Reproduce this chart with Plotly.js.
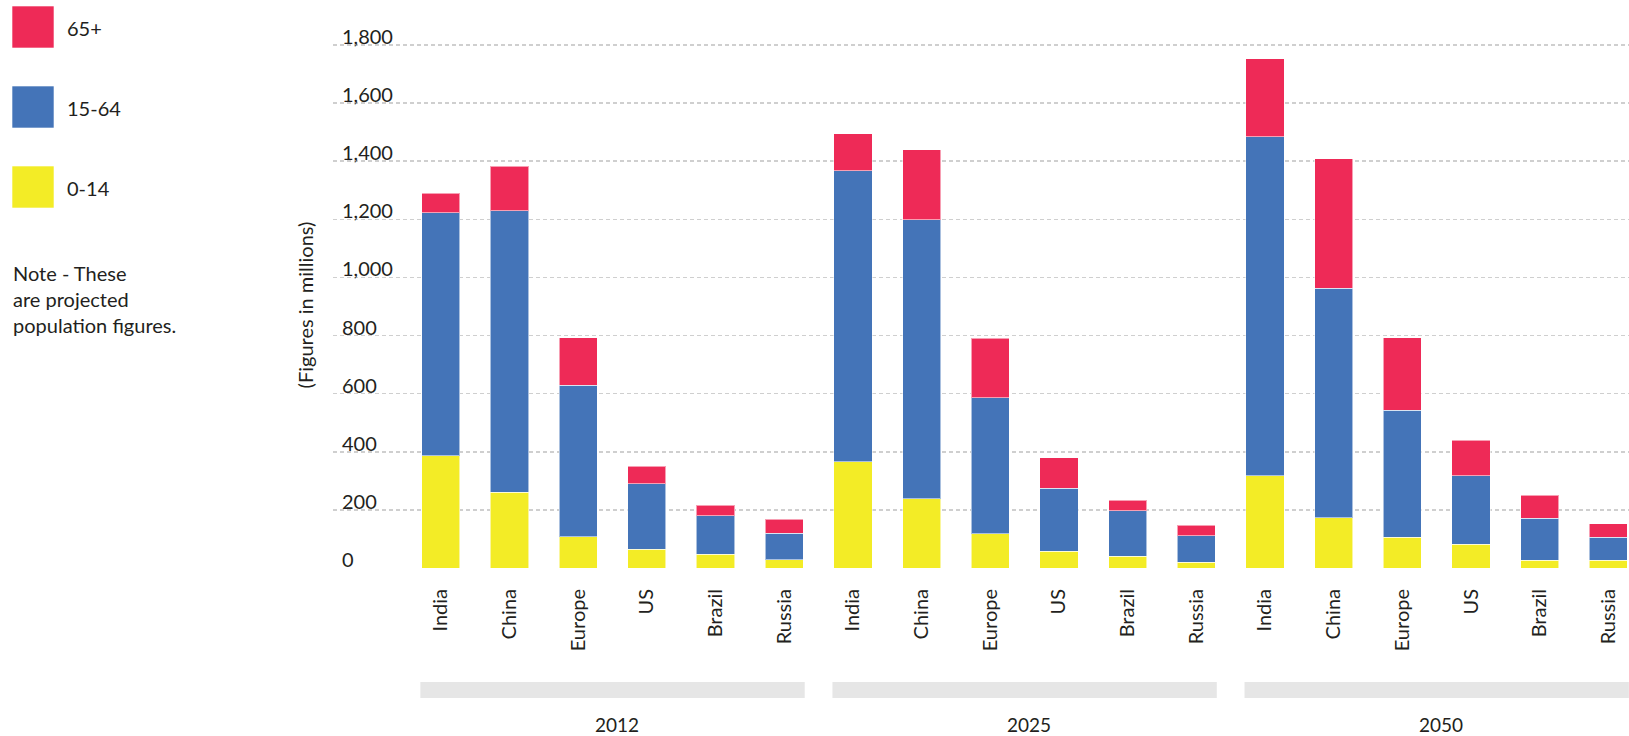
<!DOCTYPE html>
<html>
<head>
<meta charset="utf-8">
<script src="https://cdn.plot.ly/plotly-3.0.1.min.js"></script>
<style>
  html, body { margin: 0; padding: 0; background: #fff; overflow: hidden; }
  #chart { width: 1629px; height: 736px; }
</style>
</head>
<body>
<div id="chart"></div>
<script>
// ---- Data (millions) ----
const categories = ['India', 'China', 'Europe', 'US', 'Brazil', 'Russia'];
const years = ['2012', '2025', '2050'];
const age0to14 = [386, 260, 108, 65, 47, 29,   366, 239, 118, 57, 40, 20,   318, 173, 106, 81, 26, 26];
const age15to64 = [837, 970, 521, 225, 133, 91,  1001, 959, 468, 218, 157, 91,  1167, 789, 437, 237, 146, 79];
const age65plus = [67, 152, 163, 61, 36, 48,    128, 242, 204, 104, 36, 37,    268, 446, 249, 122, 79, 47];
const seriesNames = ['0-14', '15-64', '65+'];
const yTicks = [0, 200, 400, 600, 800, 1000, 1200, 1400, 1600, 1800];
const noteText = 'Note - These<br>are projected<br>population figures.';
const yTitle = '(Figures in millions)';

// ---- Styling ----
const colors = { '0-14': '#F3EC26', '15-64': '#4474B8', '65+': '#EE2A57' };
const FONT = 'Lato, "Open Sans", sans-serif';
const TXT = '#231F20';
const BAR_W = 0.556;

// plot area geometry (px): value 0 at y=568, value 1800 at y=45
const Y0 = 568, Y1800 = 45;
const pxPerUnit = (Y0 - Y1800) / 1800;
const L = 333, T = 42, W = 1629 - L, H = Y0 - T;
const yMax = H / pxPerUnit;
const px2x = px => (px - L) / W;
const px2y = py => (T + H - py) / H;

const xIdx = age0to14.map((_, i) => i);
const tickText = years.flatMap(() => categories);

const makeTrace = (vals, name) => ({
  type: 'bar',
  x: xIdx,
  y: vals,
  name: name,
  width: BAR_W,
  marker: { color: colors[name], line: { color: 'rgba(255,255,255,0.55)', width: 1 } },
  hovertemplate: '%{y}<extra>' + name + '</extra>'
});

const traces = [
  makeTrace(age0to14, '0-14'),
  makeTrace(age15to64, '15-64'),
  makeTrace(age65plus, '65+')
];

// group bars + year labels
const shapes = [];
const annotations = [];
years.forEach((yr, g) => {
  const first = g * categories.length;
  const last = first + categories.length - 1;
  shapes.push({
    type: 'rect', xref: 'x', yref: 'paper',
    x0: first - BAR_W / 2 - 0.02, x1: last + BAR_W / 2 + 0.02,
    y0: px2y(698), y1: px2y(682),
    fillcolor: '#E6E6E6', line: { width: 0 }, layer: 'below'
  });
  annotations.push({
    xref: 'x', yref: 'paper', x: (first + last) / 2 + 0.06, y: px2y(724),
    text: yr, showarrow: false, xanchor: 'center', yanchor: 'middle',
    font: { family: FONT, size: 19, color: TXT }
  });
});

// custom legend (top-left)
const legendOrder = ['65+', '15-64', '0-14'];
const legendTops = [6, 86, 166];
legendOrder.forEach((name, i) => {
  const top = legendTops[i];
  shapes.push({
    type: 'rect', xref: 'paper', yref: 'paper',
    x0: px2x(12), x1: px2x(54), y0: px2y(top + 42), y1: px2y(top),
    fillcolor: colors[name], line: { color: 'rgba(255,255,255,0.6)', width: 1 }
  });
  annotations.push({
    xref: 'paper', yref: 'paper', x: px2x(65), y: px2y(top + 22),
    text: name, showarrow: false, xanchor: 'left', yanchor: 'middle',
    font: { family: FONT, size: 20, color: TXT }
  });
});

// note
annotations.push({
  xref: 'paper', yref: 'paper', x: px2x(11), y: px2y(299),
  text: noteText, showarrow: false, xanchor: 'left', yanchor: 'middle', align: 'left',
  font: { family: FONT, size: 20, color: TXT }
});

const layout = {
  width: 1629, height: 736,
  margin: { l: L, r: 0, t: T, b: 736 - T - H, pad: 0 },
  paper_bgcolor: '#fff', plot_bgcolor: '#fff',
  barmode: 'stack',
  showlegend: false,
  font: { family: FONT, color: TXT, size: 20 },
  xaxis: {
    range: [-1.57, 17.3],
    tickmode: 'array', tickvals: xIdx, ticktext: tickText,
    tickangle: -90,
    tickfont: { family: FONT, size: 20, color: TXT },
    showgrid: false, zeroline: false, showline: false,
    ticks: '', ticklabelstandoff: 16,
    fixedrange: true
  },
  yaxis: {
    range: [0, yMax],
    tickmode: 'array', tickvals: yTicks,
    tickformat: ',d',
    ticklabelposition: 'inside top',
    ticklabeloverflow: 'allow',
    ticklabelstandoff: 6,
    ticklabelshift: 6,
    tickfont: { family: FONT, size: 20, color: TXT },
    showgrid: true, gridcolor: '#CFCFCF', gridwidth: 1.5, griddash: '4px,3px',
    zeroline: false, showline: false, ticks: '',
    title: { text: yTitle, font: { family: FONT, size: 20, color: TXT }, standoff: 23 },
    fixedrange: true
  },
  shapes: shapes,
  annotations: annotations
};

Plotly.newPlot('chart', traces, layout, { displayModeBar: false, staticPlot: true });
</script>
</body>
</html>
